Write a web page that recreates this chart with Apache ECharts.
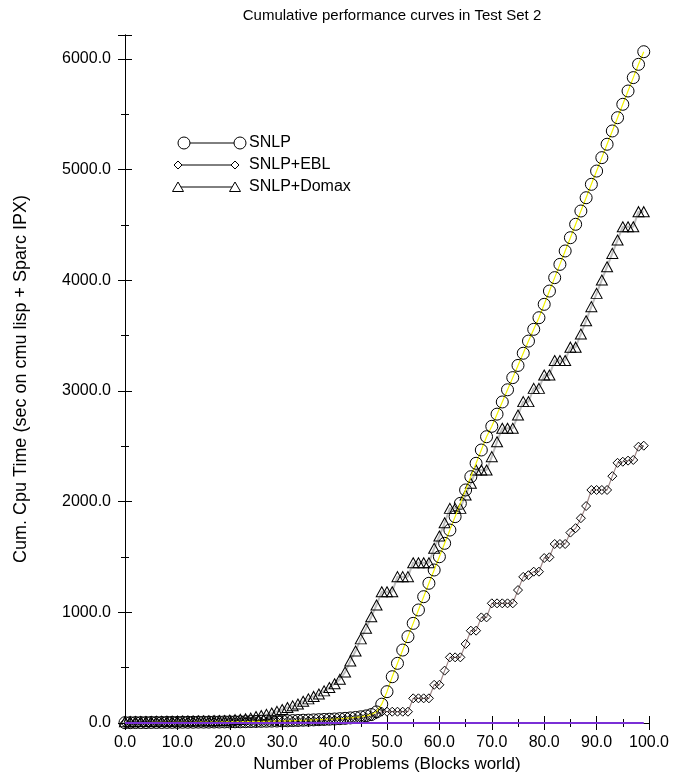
<!DOCTYPE html>
<html>
<head>
<meta charset="utf-8">
<script src="https://cdn.jsdelivr.net/npm/echarts@6/dist/echarts.min.js"></script>
<style>
html,body{margin:0;padding:0;background:#fff;}
#chart{width:675px;height:778px;}
</style>
</head>
<body>
<div id="chart"></div>
<script>
// ---- data ----
var problems = [0,1,2,3,4,5,6,7,8,9,10,11,12,13,14,15,16,17,18,19,20,21,22,23,24,25,26,27,28,29,30,31,32,33,34,35,36,37,38,39,40,41,42,43,44,45,46,47,48,49,50,51,52,53,54,55,56,57,58,59,60,61,62,63,64,65,66,67,68,69,70,71,72,73,74,75,76,77,78,79,80,81,82,83,84,85,86,87,88,89,90,91,92,93,94,95,96,97,98,99];

var snlp = [3,3,4,4,4,5,5,5,6,6,
  6,7,7,7,8,8,8,9,9,10,
  10,11,11,12,13,14,15,16,17,18,
  19,20,22,23,25,26,28,30,32,34,
  36,39,42,46,50,56,64,76,100,170,
  283,418,539,659,780,900,1021,1141,1262,1382,
  1502,1623,1743,1864,1984,2105,2225,2346,2466,2586,
  2680,2790,2900,3010,3120,3230,3340,3450,3556,3661,
  3782,3902,4023,4143,4264,4384,4505,4625,4745,4866,
  4986,5107,5228,5348,5468,5589,5709,5830,5950,6064];

var snlpEbl = [2,2,2,3,3,3,3,4,4,4,
  4,5,5,5,5,6,6,6,7,7,
  7,8,8,9,9,10,10,11,12,13,
  14,15,16,17,18,19,20,22,24,26,
  28,30,33,36,40,45,52,62,80,102,
  102,102,102,102,102,223,223,223,223,345,
  345,473,593,593,593,714,834,834,954,954,
  1081,1081,1081,1081,1081,1201,1320,1335,1367,1367,
  1490,1497,1617,1617,1617,1720,1760,1850,1960,2105,
  2105,2105,2105,2230,2350,2360,2370,2376,2496,2505];

var snlpDomax = [12,12,13,13,14,14,15,15,16,16,
  17,17,18,18,19,19,20,21,22,23,
  26,30,34,38,44,58,68,78,90,105,
  122,140,155,172,196,218,240,262,290,320,
  355,395,460,560,650,760,855,960,1066,1186,
  1186,1186,1322,1322,1322,1448,1448,1448,1448,1578,
  1689,1809,1939,1939,1939,2060,2165,2285,2285,2285,
  2406,2541,2662,2662,2662,2782,2903,2903,3023,3023,
  3143,3143,3275,3275,3275,3395,3395,3514,3634,3761,
  3881,4002,4122,4242,4363,4483,4483,4483,4619,4619];

var baseline = [0,0,0,0,0,0,0,0,0,0,0,0,0,0,0,0,0,0,0,0,0,0,0,0,0,0,0,0,0,0,0,0,0,0,0,0,0,0,0,0,0,0,0,0,0,0,0,0,0,0,0,0,0,0,0,0,0,0,0,0,0,0,0,0,0,0,0,0,0,0,0,0,0,0,0,0,0,0,0,0,0,0,0,0,0,0,0,0,0,0,0,0,0,0,0,0,0,0,0,0];

var seriesNames = ['SNLP', 'SNLP+EBL', 'SNLP+Domax'];
var xTicks = {min: 0, max: 100, interval: 10};
var yTicks = {min: 0, max: 6215, interval: 1000};
var chartTitle = 'Cumulative performance curves in Test Set 2';
var xName = 'Number of Problems (Blocks world)';
var yName = 'Cum. Cpu Time (sec on cmu lisp + Sparc IPX)';

function pairs(vals) { return problems.map(function (p, i) { return [p, vals[i]]; }); }

var FONT = 'Liberation Sans, Arial, Helvetica, sans-serif';
var chart = echarts.init(document.getElementById('chart'));

function fmt(v) {
  if (v % 1000 !== 0 && v > 100) return '';
  return Number(v).toFixed(1);
}

var tickCommon = {
  axisLine: {show: true, lineStyle: {color: '#000', width: 1}},
  axisTick: {show: true, inside: true, length: 7, lineStyle: {color: '#000'}},
  minorTick: {show: true, splitNumber: 2, length: 4, lineStyle: {color: '#000'}},
  splitLine: {show: false},
  minorSplitLine: {show: false}
};

function hollow(symbol, size, lineColor, lineWidth, z) {
  return {
    type: 'line',
    symbol: symbol,
    symbolSize: size,
    showAllSymbol: true,
    z: z,
    itemStyle: {color: 'rgba(255,255,255,0)', borderColor: '#000', borderWidth: 1},
    lineStyle: {color: lineColor, width: lineWidth},
    emphasis: {disabled: true},
    animation: false
  };
}

var s1 = hollow('circle', 12, '#f2f200', 1.2, 4); s1.name = seriesNames[0]; s1.data = pairs(snlp);
var s2 = hollow('diamond', 9, '#a08888', 1.2, 3); s2.name = seriesNames[1]; s2.data = pairs(snlpEbl);
var s3 = hollow('triangle', [11, 10], '#bdbdbd', 2, 2); s3.name = seriesNames[2]; s3.data = pairs(snlpDomax);
var s4 = {type: 'line', name: 'base', data: pairs(baseline), symbol: 'none', z: 6,
  lineStyle: {color: '#7a2fd6', width: 2}, animation: false};

// legend drawn as symbol—line—symbol samples
var legY0 = 143, legDY = 22, legTextX = 249;
var legendSyms = [
  {type: 'circle', shape: {cx: 0, cy: 0, r: 6}},
  {type: 'polygon', shape: {points: [[0,-4],[4,0],[0,4],[-4,0]]}},
  {type: 'polygon', shape: {points: [[0,-5],[5.5,4.5],[-5.5,4.5]]}}
];
var graphics = [];
seriesNames.forEach(function (nm, i) {
  var y = legY0 + i * legDY;
  var sx1 = 184, sx2 = 240;
  if (i > 0) { sx1 = 178; sx2 = 235; }
  graphics.push({type: 'line', shape: {x1: sx1, y1: y, x2: sx2, y2: y}, style: {stroke: '#000', lineWidth: 1}});
  [sx1, sx2].forEach(function (sx) {
    var g = echarts.util.clone(legendSyms[i]);
    g.x = sx; g.y = y;
    g.style = {fill: '#fff', stroke: '#000', lineWidth: 1};
    graphics.push(g);
  });
  graphics.push({type: 'text', x: legTextX, y: y, style: {text: nm, font: '16px ' + FONT, fill: '#000', verticalAlign: 'middle'}});
});

chart.setOption({
  animation: false,
  backgroundColor: '#fff',
  title: {text: chartTitle, left: 387, textAlign: 'center', top: 3,
    textStyle: {fontFamily: FONT, fontSize: 15, fontWeight: 'normal', color: '#000'}},
  grid: {left: 125, right: 26, top: 35, bottom: 55, containLabel: false},
  xAxis: [
    Object.assign({type: 'value', position: 'bottom', min: xTicks.min, max: xTicks.max, interval: xTicks.interval,
      name: xName, nameLocation: 'middle', nameGap: 33,
      nameTextStyle: {fontFamily: FONT, fontSize: 17, color: '#000'},
      axisLabel: {fontFamily: FONT, fontSize: 16, color: '#000', margin: 12,
        formatter: function (v) { return Number(v).toFixed(1); }}}, tickCommon),
    Object.assign({type: 'value', position: 'top', min: xTicks.min, max: xTicks.max, interval: xTicks.interval,
      axisLabel: {show: false}}, tickCommon)
  ],
  yAxis: [
    Object.assign({type: 'value', position: 'left', min: yTicks.min, max: yTicks.max, interval: yTicks.interval,
      name: yName, nameLocation: 'middle', nameGap: 95, nameRotate: 90,
      nameTextStyle: {fontFamily: FONT, fontSize: 18, color: '#000'},
      axisLabel: {fontFamily: FONT, fontSize: 16, color: '#000', margin: 14, showMaxLabel: false,
        formatter: fmt}}, tickCommon),
    Object.assign({type: 'value', position: 'right', min: yTicks.min, max: yTicks.max, interval: yTicks.interval,
      axisLabel: {show: false}}, tickCommon)
  ],
  series: [s3, s2, s1, s4],
  graphic: graphics
});
</script>
</body>
</html>
